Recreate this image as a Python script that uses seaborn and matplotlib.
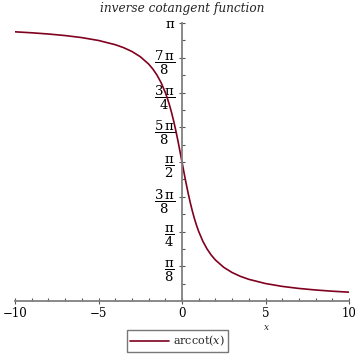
import numpy as np
import pandas as pd
import matplotlib
matplotlib.use("Agg")
import matplotlib.pyplot as plt
import seaborn as sns
from matplotlib.ticker import FixedLocator, MultipleLocator

x_vals = [-10, -9, -8, -7, -6, -5, -4, -3.5, -3, -2.5, -2, -1.75, -1.5, -1.25, -1,
          -0.875, -0.75, -0.625, -0.5, -0.375, -0.25, -0.125, 0,
          0.125, 0.25, 0.375, 0.5, 0.625, 0.75, 0.875, 1, 1.25, 1.5, 1.75, 2,
          2.5, 3, 3.5, 4, 5, 6, 7, 8, 9, 10]
y_vals = [3.0419, 3.0309, 3.0172, 2.9997, 2.9765, 2.9442, 2.8966, 2.8633, 2.8198,
          2.7611, 2.6779, 2.6225, 2.5536, 2.4669, 2.3562, 2.2896, 2.2143, 2.1294,
          2.0344, 1.9296, 1.8158, 1.6952, 1.5708,
          1.4464, 1.3258, 1.2120, 1.1071, 1.0122, 0.9273, 0.8520, 0.7854, 0.6747,
          0.5880, 0.5191, 0.4636, 0.3805, 0.3218, 0.2783, 0.2450, 0.1974, 0.1651,
          0.1419, 0.1244, 0.1107, 0.0997]
y_tick_labels = [r"$\dfrac{\mathrm{\pi}}{8}$", r"$\dfrac{\mathrm{\pi}}{4}$",
                 r"$\dfrac{3\,\mathrm{\pi}}{8}$", r"$\dfrac{\mathrm{\pi}}{2}$",
                 r"$\dfrac{5\,\mathrm{\pi}}{8}$", r"$\dfrac{3\,\mathrm{\pi}}{4}$",
                 r"$\dfrac{7\,\mathrm{\pi}}{8}$", r"$\mathrm{\pi}$"]
x_ticks = [-10, -5, 0, 5, 10]
series_name = r"arccot($x$)"

sns.set_theme(style="white")
plt.rcParams["font.family"] = ["DejaVu Serif"]
plt.rcParams["mathtext.fontset"] = "dejavuserif"

df = pd.DataFrame({"x": x_vals, "y": y_vals})

fig = plt.figure(figsize=(3.55, 3.55), dpi=100)
ax = fig.add_axes([15/355, 1 - 301/355, 334/355, 278/355])
sns.lineplot(data=df, x="x", y="y", color="#800020", linewidth=1.2, ax=ax,
             label=series_name, legend=False, sort=True)

ax.set_xlim(-10, 10)
ax.set_ylim(0, np.pi)
for s in ["top", "right"]:
    ax.spines[s].set_visible(False)
ax.spines["left"].set_position(("data", 0))
ax.spines["bottom"].set_position(("data", 0))
for s in ["left", "bottom"]:
    ax.spines[s].set_color("#808080")
    ax.spines[s].set_linewidth(1.3)

yt = [np.pi * k / 8 for k in range(1, 9)]
ax.yaxis.set_major_locator(FixedLocator(yt))
ax.set_yticklabels(y_tick_labels)
ax.yaxis.set_minor_locator(FixedLocator([np.pi * (k + 0.5) / 8 for k in range(0, 8)]))
ax.xaxis.set_major_locator(FixedLocator(x_ticks))
ax.set_xticklabels(["\u221210", "\u22125", "0", "5", "10"])
ax.xaxis.set_minor_locator(MultipleLocator(1))

ax.tick_params(axis="both", which="both", colors="#555555", labelcolor="black",
               left=True, bottom=True)
ax.tick_params(axis="both", which="major", direction="inout", length=4, width=0.8,
               labelsize=8.5, pad=2)
ax.tick_params(axis="both", which="minor", direction="in", length=2, width=0.8)
ax.tick_params(axis="y", which="major", labelsize=9.5, pad=3)

ax.set_xlabel("x", fontsize=6.5, style="italic", labelpad=0)
ax.xaxis.set_label_coords(252/334, -22/278)
ax.set_ylabel("")
ax.set_title("inverse cotangent function", fontsize=8.7, style="italic", pad=8)

fig.legend(loc="lower center", bbox_to_anchor=(0.5, -0.006), fontsize=8,
           frameon=True, fancybox=False, edgecolor="#555555", handlelength=3.5,
           borderpad=0.3, handletextpad=0.4)

fig.savefig("out.png", dpi=100)
